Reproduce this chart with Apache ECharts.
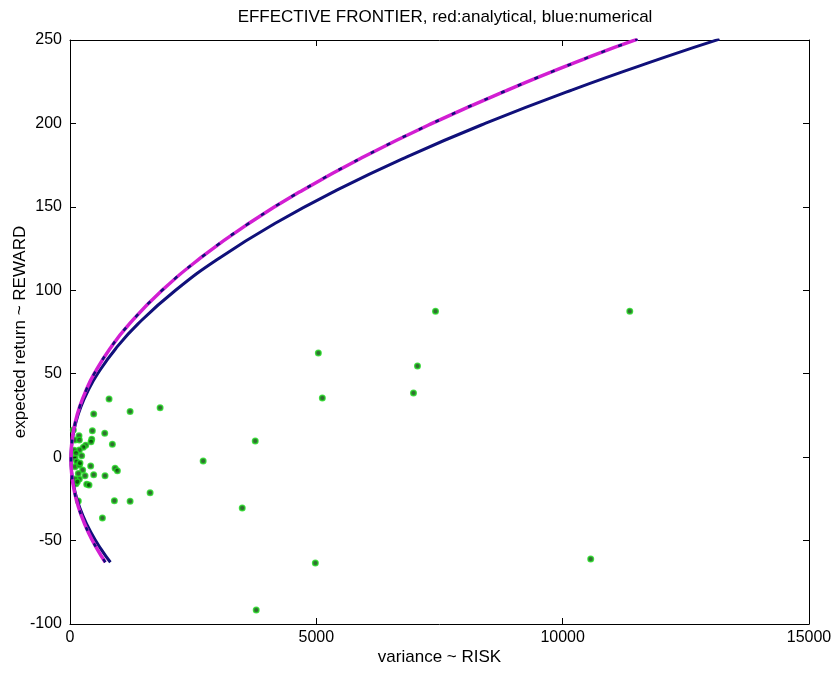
<!DOCTYPE html>
<html>
<head>
<meta charset="utf-8">
<script src="https://cdn.jsdelivr.net/npm/echarts@6/dist/echarts.min.js"></script>
<style>
html,body{margin:0;padding:0;background:#fff;}
#chart{width:835px;height:673px;}
</style>
</head>
<body>
<div id="chart"></div>
<script>
// Analytical frontier (magenta): [variance, expected return]
const analyticalRisk   = [717, 549, 371, 230, 124, 56, 29, 20, 27, 51, 100, 194, 325, 492, 810, 1210, 1870, 2676, 3626, 4722, 5963, 7349, 8880, 10556, 11520];
const analyticalReturn = [-63, -55, -45, -35, -25, -15, -8, -1, 5, 12, 20, 30, 40, 50, 65, 80, 100, 120, 140, 160, 180, 200, 220, 240, 250.5];
// Numerical frontier (navy)
const numericalRisk   = [820, 627, 423, 261, 140, 61, 30, 20, 27.5, 55, 112, 220, 370, 561, 927, 1385, 2143, 3067, 4157, 5414, 6838, 8427, 10184, 12107, 13183];
const numericalReturn = [-63, -55, -45, -35, -25, -15, -8, -1, 5, 12, 20, 30, 40, 50, 65, 80, 100, 120, 140, 160, 180, 200, 220, 240, 250.5];
// Individual assets (green)
const assetRisk = [11362, 7419, 5041, 7053, 5122, 6972, 3760, 2703, 3496, 4980, 10569, 3780,
  793, 1220, 1829, 481, 454, 705, 183, 441, 427, 860, 319, 271, 190, 237, 420, 915, 962, 257, 305, 481, 711, 190, 339, 386, 1626, 901, 1220, 658, 169,
  68, 102, 85, 122, 102, 135, 102, 169, 102, 122, 149, 190, 203, 190];
const assetReturn = [87.5, 87.5, 62.4, 54.6, 35.4, 38.4, 9.6, -2.3, -30.5, -63.5, -61, -91.6,
  34.8, 27.4, 29.6, 25.8, 15.8, 14.3, 12.8, 10.7, 9.2, 7.7, 7.2, 5.9, 4.3, 0.8, -5.3, -6.7, -8.1, -7.7, -11.1, -10.5, -11.1, -13.1, -16.3, -16.7, -21.3, -26.1, -26.5, -36.5, -26.3,
  16.2, 10.2, 4.1, 2.3, -0.7, -2.7, -5.7, -9.8, -13.1, -16, -14.7, -4.7, -3.5, 10.2];
const xTicks = [0, 5000, 10000, 15000];
const yTicks = [-100, -50, 0, 50, 100, 150, 200, 250];

const zip = (a, b) => a.map((v, i) => [v, b[i]]);
const FONT = '"Liberation Sans", Arial, sans-serif';
const chart = echarts.init(document.getElementById('chart'), null, {renderer: 'canvas'});
const axisLine = {show: true, onZero: false, lineStyle: {color: '#000', width: 1}};
const tickStyle = {show: true, inside: true, length: 6, lineStyle: {color: '#000', width: 1}};
const plain = v => String(v);
chart.setOption({
  animation: false,
  backgroundColor: '#fff',
  title: {
    text: 'EFFECTIVE FRONTIER, red:analytical, blue:numerical',
    left: 440, top: 4, textAlign: 'center',
    textStyle: {fontFamily: FONT, fontSize: 17, fontWeight: 'normal', color: '#000'}
  },
  grid: {left: 70, right: 26, top: 40, bottom: 49, containLabel: false, outerBoundsMode: 'none'},
  xAxis: [{
    type: 'value', min: xTicks[0], max: xTicks[xTicks.length - 1], interval: 5000,
    name: 'variance ~ RISK', nameLocation: 'middle', nameGap: 25, nameMoveOverlap: false,
    nameTextStyle: {fontFamily: FONT, fontSize: 17, color: '#000'},
    axisLine: axisLine, axisTick: tickStyle, splitLine: {show: false},
    axisLabel: {fontFamily: FONT, fontSize: 16, color: '#000', margin: 6, formatter: plain}
  }, {
    type: 'value', position: 'top', min: xTicks[0], max: xTicks[xTicks.length - 1], interval: 5000,
    axisLine: axisLine, axisTick: tickStyle, splitLine: {show: false}, axisLabel: {show: false}
  }],
  yAxis: [{
    type: 'value', min: yTicks[0], max: yTicks[yTicks.length - 1], interval: 50,
    name: 'expected return ~ REWARD', nameLocation: 'middle', nameGap: 41, nameMoveOverlap: false,
    nameTextStyle: {fontFamily: FONT, fontSize: 17, color: '#000'},
    axisLine: axisLine, axisTick: tickStyle, splitLine: {show: false},
    axisLabel: {fontFamily: FONT, fontSize: 16, color: '#000', margin: 8, formatter: plain}
  }, {
    type: 'value', position: 'right', min: yTicks[0], max: yTicks[yTicks.length - 1], interval: 50,
    axisLine: axisLine, axisTick: tickStyle, splitLine: {show: false}, axisLabel: {show: false}
  }],
  series: [
    {
      name: 'assets', type: 'scatter', data: zip(assetRisk, assetReturn),
      symbol: 'circle', symbolSize: 5.5,
      itemStyle: {color: '#004a00', borderColor: '#22d822', borderWidth: 1.5}, z: 1
    },
    {
      name: 'analytical', type: 'line', data: zip(analyticalRisk, analyticalReturn),
      smooth: true, showSymbol: false, lineStyle: {color: '#d21ed2', width: 3.5}, z: 3
    },
    {
      name: 'analytical-num', type: 'line', data: zip(analyticalRisk, analyticalReturn),
      smooth: true, showSymbol: false, lineStyle: {color: '#10107a', width: 2.5, type: [4, 14]}, z: 4
    },
    {
      name: 'numerical', type: 'line', data: zip(numericalRisk, numericalReturn),
      smooth: true, showSymbol: false, lineStyle: {color: '#10107a', width: 3}, z: 2
    }
  ]
});
</script>
</body>
</html>
